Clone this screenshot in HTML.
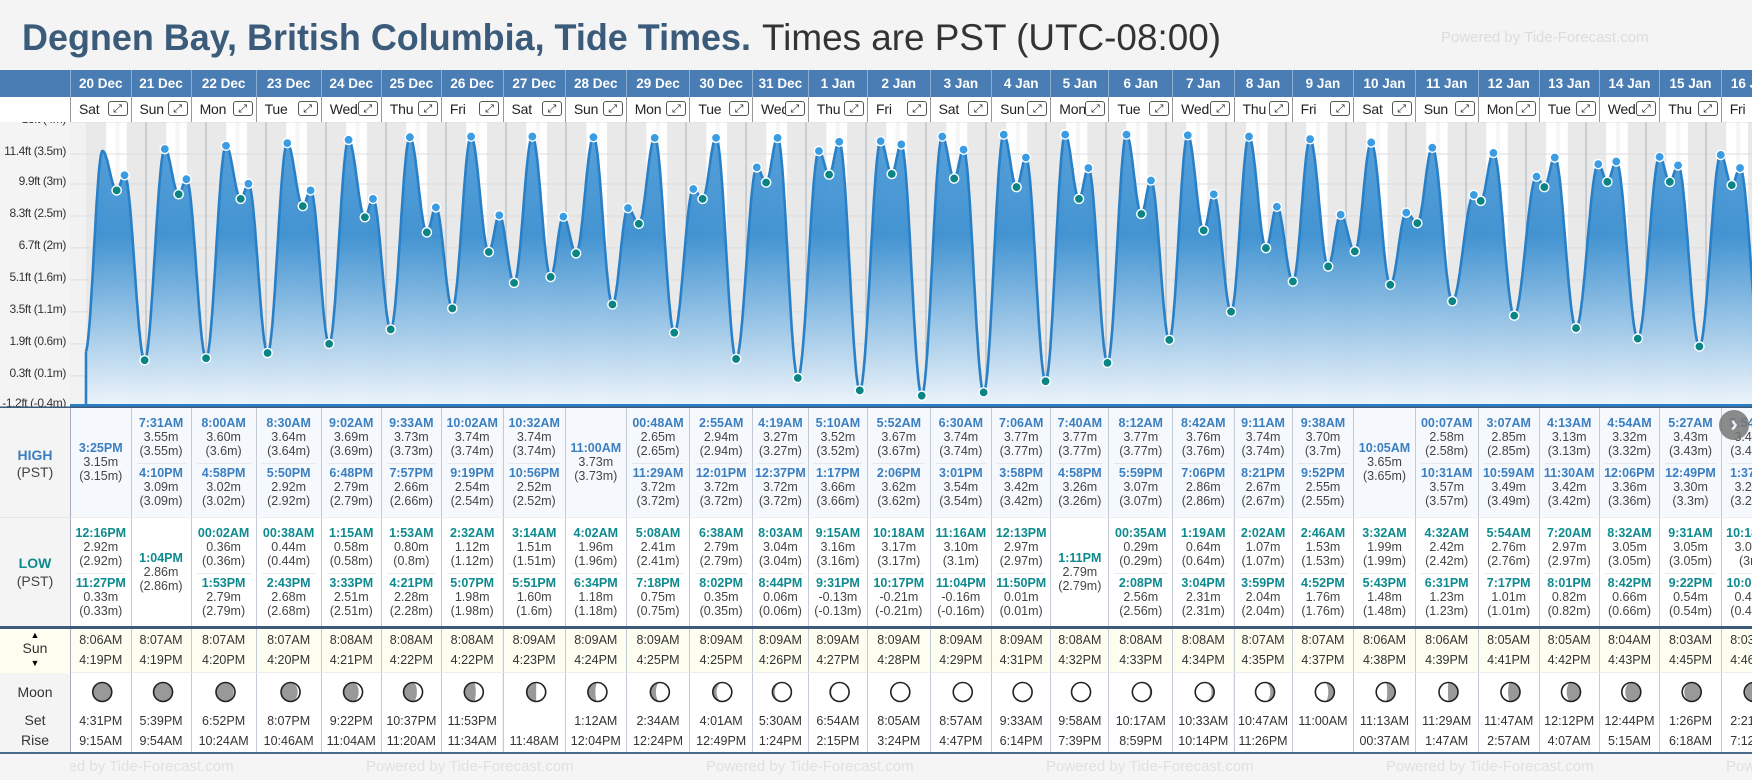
<!DOCTYPE html>
<html><head><meta charset="utf-8">
<style>
html,body{margin:0;padding:0;}
body{width:1752px;height:780px;overflow:hidden;background:#f4f4f4;position:relative;font-family:"Liberation Sans",sans-serif;}
.abs{position:absolute;}
.cell{position:absolute;box-sizing:border-box;text-align:center;overflow:hidden;}
.t{position:absolute;left:0;right:0;text-align:center;white-space:nowrap;line-height:14px;}
</style></head>
<body>
<svg class="abs" style="left:0;top:0" width="1752" height="70">
<text x="22" y="50" font-family="Liberation Sans, sans-serif" font-weight="bold" font-size="37" fill="#3b5b7b" textLength="729" lengthAdjust="spacingAndGlyphs">Degnen Bay, British Columbia, Tide Times.</text>
<text x="762" y="50" font-family="Liberation Sans, sans-serif" font-size="37" fill="#333" textLength="459" lengthAdjust="spacingAndGlyphs">Times are PST (UTC-08:00)</text>
<text x="1441" y="42" font-family="Liberation Sans, sans-serif" font-size="15" fill="#dcdcdc">Powered by Tide-Forecast.com</text>
</svg>
<div class="abs" style="left:0;top:70px;width:1752px;height:27px;background:#4a7db3"></div>
<div class="abs" style="left:0;top:97px;width:1752px;height:25px;background:#fff;border-bottom:1px solid #888"></div>
<svg id="chart" class="abs" style="left:0;top:122px" width="1752" height="286" viewBox="0 122 1752 286"></svg>
<div id="table"></div>
<div class="abs" style="left:0;top:408px;width:70px;height:109px;background:#f4f4f4;border-right:1px solid #aab">
<div class="t" style="top:40px;font-weight:bold;font-size:14px;color:#3b7fc0">HIGH</div>
<div class="t" style="top:57px;font-size:14px;color:#444">(PST)</div></div>
<div class="abs" style="left:0;top:517px;width:70px;height:109px;background:#f4f4f4;border-right:1px solid #aab;border-top:1px solid #e6e6e6">
<div class="t" style="top:38px;font-weight:bold;font-size:14px;color:#0e8a8f">LOW</div>
<div class="t" style="top:56px;font-size:14px;color:#444">(PST)</div></div>
<div class="abs" style="left:0;top:626px;width:1752px;height:3px;background:#3d5a7a"></div>
<div class="abs" style="left:0;top:629px;width:70px;height:44px;background:#fdfdf0;border-right:1px solid #aab">
<div class="t" style="top:-1px;font-size:9px">▲</div>
<div class="t" style="top:12px;font-size:14px;color:#333">Sun</div>
<div class="t" style="top:27px;font-size:9px">▼</div></div>
<div class="abs" style="left:0;top:673px;width:70px;height:79px;background:#f4f4f4;border-right:1px solid #aab">
<div class="t" style="top:12px;font-size:14px;color:#333">Moon</div>
<div class="t" style="top:40px;font-size:14px;color:#333">Set</div>
<div class="t" style="top:60px;font-size:14px;color:#333">Rise</div></div>
<div class="abs" style="left:0;top:752px;width:1752px;height:2px;background:#4a6a8a"></div>
<div id="footer" class="abs" style="left:0;top:754px;width:1752px;height:26px;background:#f5f5f5;overflow:hidden"></div>
<div class="abs" style="left:1719px;top:410px;width:30px;height:30px;border-radius:50%;background:#777;opacity:0.85;color:#fff;font-size:22px;line-height:28px;text-align:center;font-weight:bold">›</div>

<script>
const dates=["20 Dec","21 Dec","22 Dec","23 Dec","24 Dec","25 Dec","26 Dec","27 Dec","28 Dec","29 Dec","30 Dec","31 Dec","1 Jan","2 Jan","3 Jan","4 Jan","5 Jan","6 Jan","7 Jan","8 Jan","9 Jan","10 Jan","11 Jan","12 Jan","13 Jan","14 Jan","15 Jan","16 Jan"];
const dayNames=["Sat","Sun","Mon","Tue","Wed","Thu","Fri"];
const highT=[["3:25PM"],["7:31AM","4:10PM"],["8:00AM","4:58PM"],["8:30AM","5:50PM"],["9:02AM","6:48PM"],["9:33AM","7:57PM"],["10:02AM","9:19PM"],["10:32AM","10:56PM"],["11:00AM"],["00:48AM","11:29AM"],["2:55AM","12:01PM"],["4:19AM","12:37PM"],["5:10AM","1:17PM"],["5:52AM","2:06PM"],["6:30AM","3:01PM"],["7:06AM","3:58PM"],["7:40AM","4:58PM"],["8:12AM","5:59PM"],["8:42AM","7:06PM"],["9:11AM","8:21PM"],["9:38AM","9:52PM"],["10:05AM"],["00:07AM","10:31AM"],["3:07AM","10:59AM"],["4:13AM","11:30AM"],["4:54AM","12:06PM"],["5:27AM","12:49PM"],["5:54AM","1:37PM"]];
const highV=[[3.15],[3.55,3.09],[3.60,3.02],[3.64,2.92],[3.69,2.79],[3.73,2.66],[3.74,2.54],[3.74,2.52],[3.73],[2.65,3.72],[2.94,3.72],[3.27,3.72],[3.52,3.66],[3.67,3.62],[3.74,3.54],[3.77,3.42],[3.77,3.26],[3.77,3.07],[3.76,2.86],[3.74,2.67],[3.70,2.55],[3.65],[2.58,3.57],[2.85,3.49],[3.13,3.42],[3.32,3.36],[3.43,3.30],[3.46,3.26]];
const lowT=[["12:16PM","11:27PM"],["1:04PM"],["00:02AM","1:53PM"],["00:38AM","2:43PM"],["1:15AM","3:33PM"],["1:53AM","4:21PM"],["2:32AM","5:07PM"],["3:14AM","5:51PM"],["4:02AM","6:34PM"],["5:08AM","7:18PM"],["6:38AM","8:02PM"],["8:03AM","8:44PM"],["9:15AM","9:31PM"],["10:18AM","10:17PM"],["11:16AM","11:04PM"],["12:13PM","11:50PM"],["1:11PM"],["00:35AM","2:08PM"],["1:19AM","3:04PM"],["2:02AM","3:59PM"],["2:46AM","4:52PM"],["3:32AM","5:43PM"],["4:32AM","6:31PM"],["5:54AM","7:17PM"],["7:20AM","8:01PM"],["8:32AM","8:42PM"],["9:31AM","9:22PM"],["10:18AM","10:05PM"]];
const lowV=[[2.92,0.33],[2.86],[0.36,2.79],[0.44,2.68],[0.58,2.51],[0.80,2.28],[1.12,1.98],[1.51,1.60],[1.96,1.18],[2.41,0.75],[2.79,0.35],[3.04,0.06],[3.16,-0.13],[3.17,-0.21],[3.10,-0.16],[2.97,0.01],[2.79],[0.29,2.56],[0.64,2.31],[1.07,2.04],[1.53,1.76],[1.99,1.48],[2.42,1.23],[2.76,1.01],[2.97,0.82],[3.05,0.66],[3.05,0.54],[3.00,0.43]];
// tide turning points before the first table entry (shown on chart only)
const leadT=[-0.3,6.6];
const leadV=[0.45,3.52];
const sunrise=["8:06AM","8:07AM","8:07AM","8:07AM","8:08AM","8:08AM","8:08AM","8:09AM","8:09AM","8:09AM","8:09AM","8:09AM","8:09AM","8:09AM","8:09AM","8:09AM","8:08AM","8:08AM","8:08AM","8:07AM","8:07AM","8:06AM","8:06AM","8:05AM","8:05AM","8:04AM","8:03AM","8:03AM"];
const sunset=["4:19PM","4:19PM","4:20PM","4:20PM","4:21PM","4:22PM","4:22PM","4:23PM","4:24PM","4:25PM","4:25PM","4:26PM","4:27PM","4:28PM","4:29PM","4:31PM","4:32PM","4:33PM","4:34PM","4:35PM","4:37PM","4:38PM","4:39PM","4:41PM","4:42PM","4:43PM","4:45PM","4:46PM"];
const moonSet=["4:31PM","5:39PM","6:52PM","8:07PM","9:22PM","10:37PM","11:53PM","","1:12AM","2:34AM","4:01AM","5:30AM","6:54AM","8:05AM","8:57AM","9:33AM","9:58AM","10:17AM","10:33AM","10:47AM","11:00AM","11:13AM","11:29AM","11:47AM","12:12PM","12:44PM","1:26PM","2:21PM"];
const moonRise=["9:15AM","9:54AM","10:24AM","10:46AM","11:04AM","11:20AM","11:34AM","11:48AM","12:04PM","12:24PM","12:49PM","1:24PM","2:15PM","3:24PM","4:47PM","6:14PM","7:39PM","8:59PM","10:14PM","11:26PM","","00:37AM","1:47AM","2:57AM","4:07AM","5:15AM","6:18AM","7:12AM"];
const tickFt=[13,11.4,9.9,8.3,6.7,5.1,3.5,1.9,0.3,-1.2];
const tickM=["4m","3.5m","3m","2.5m","2m","1.6m","1.1m","0.6m","0.1m","-0.4m"];

// layout
const colEdge=[70,130.5,190.6,255.6,320.7,380.8,440.9,502.5,564.9,625.7,689.4,752,807.8,867,929.6,991.1,1050.3,1108.4,1172.1,1233.5,1291.6,1353.3,1414.7,1477.7,1538.7,1598.7,1659.3,1720.7,1782];
const X0=86, PXH=2.5, Y0=381.9, PXM=65.6, YB=406;
const xS=h=>X0+h*PXH;
const yS=m=>Y0-m*PXM;
function hrs(s){const m=s.match(/(\d+):(\d+)(AM|PM)/);let h=+m[1]%12;if(m[3]=="PM")h+=12;return h+ +m[2]/60;}
const NS="http://www.w3.org/2000/svg";
function sv(tag,attrs,parent){const e=document.createElementNS(NS,tag);for(const k in attrs)e.setAttribute(k,attrs[k]);parent.appendChild(e);return e;}

const chart=document.getElementById('chart');
const defs=sv('defs',{},chart);
const g=sv('linearGradient',{id:'fillg',x1:0,y1:122,x2:0,y2:406,gradientUnits:'userSpaceOnUse'},defs);
sv('stop',{offset:'0','stop-color':'#4f9cd8'},g);
sv('stop',{offset:'0.4','stop-color':'#3a8fd0'},g);
sv('stop',{offset:'1','stop-color':'#eef5fb'},g);
sv('rect',{x:0,y:122,width:70,height:286,fill:'#f4f4f4'},chart);
sv('rect',{x:70,y:122,width:1682,height:286,fill:'#e9e9e9'},chart);
for(let d=0;d<dates.length;d++){
  const r=xS(d*24+hrs(sunrise[d])), s=xS(d*24+hrs(sunset[d]));
  const band=sv('rect',{x:r,y:122,width:s-r,height:284,fill:'#ffffff'},chart);
  
  
  sv('rect',{x:r+(s-r)*0.45,y:122,width:(s-r)*0.2,height:284,fill:'#f6f6f6'},chart);
}
sv('rect',{x:70,y:122,width:16,height:284,fill:'#f2f2f2'},chart);
tickFt.forEach((f,i)=>{const y=yS(f/3.2808);
  sv('line',{x1:70,x2:1752,y1:y,y2:y,stroke:'#dddddd','stroke-width':1},chart);
  const t=sv('text',{x:66,y:y+1,'text-anchor':'end','font-size':12,'letter-spacing':'-0.4',fill:'#333','font-family':'Liberation Sans, sans-serif'},chart);
  t.textContent=f+"ft ("+tickM[i]+")";
  
  
});
for(let d=1;d<dates.length;d++){const x=xS(d*24);
  const l=sv('line',{x1:x,x2:x,y1:122,y2:406,stroke:'#a9b3bd','stroke-width':1},chart);
  
  
}
let ev=[];
leadT.forEach((t,i)=>ev.push({t:t,v:leadV[i],k:null}));
for(let d=0;d<dates.length;d++){
  highT[d].forEach((s,i)=>ev.push({t:d*24+hrs(s),v:highV[d][i],k:'high'}));
  lowT[d].forEach((s,i)=>ev.push({t:d*24+hrs(s),v:lowV[d][i],k:'low'}));
}
ev.sort((a,b)=>a.t-b.t);
let pts=[];
for(let i=0;i<ev.length-1;i++){const a=ev[i],b=ev[i+1];
  for(let h=Math.ceil(a.t*4)/4;h<b.t;h+=0.25){if(h<0)continue;const f=(h-a.t)/(b.t-a.t);
    pts.push([xS(h),yS(a.v+(b.v-a.v)*(1-Math.cos(Math.PI*f))/2)]);}
}
const last=ev[ev.length-1];pts.push([xS(last.t),yS(last.v)]);
let dLine="M"+pts.map(p=>p[0].toFixed(1)+","+p[1].toFixed(1)).join(" L");
const area=sv('path',{d:"M"+pts[0][0]+","+YB+" L"+pts.map(p=>p[0].toFixed(1)+","+p[1].toFixed(1)).join(" L")+" L"+pts[pts.length-1][0]+","+YB+" Z",fill:'url(#fillg)',opacity:0.95},chart);


const line=sv('path',{d:dLine,fill:'none',stroke:'#2a80c6','stroke-width':2.6},chart);


sv('line',{x1:pts[0][0],x2:pts[0][0],y1:pts[0][1],y2:YB,stroke:'#2a80c6','stroke-width':2.6},chart);
ev.forEach(e=>{if(!e.k)return;
  const c=sv('circle',{cx:xS(e.t),cy:yS(e.v),r:4.6,fill:e.k=='high'?'#3a9de3':'#0a8585',stroke:'#fff','stroke-width':1.4},chart);
  
  
});
sv('rect',{x:70,y:404,width:1682,height:3,fill:'#2a80c6'},chart);
sv('rect',{x:0,y:406.5,width:1752,height:1.5,fill:'#3d5a7a'},chart);

const T=document.getElementById('table');
function mk(cls,style,parent,name,inter){const e=document.createElement('div');e.className=cls;e.style.cssText=style;parent.appendChild(e);
  
  
  return e;}
function txt(p,top,s,css){const e=document.createElement('div');e.className='t';e.style.cssText='top:'+top+'px;'+css;e.textContent=s;p.appendChild(e);return e;}
function fmt(v){return v.toFixed(2)+"m";}
function par(v){return "("+parseFloat(v.toFixed(2))+"m)";}
for(let d=0;d<dates.length;d++){
  const L=colEdge[d],W=colEdge[d+1]-L;
  const hd=mk('cell',`left:${L}px;top:70px;width:${W}px;height:27px;border-left:1px solid #8fb0d3;color:#fff;font-weight:bold;font-size:13.5px;line-height:27px`,T,'date-header',false);
  hd.textContent=dates[d];
  const dy=mk('cell',`left:${L}px;top:97px;width:${W}px;height:25px;border-left:1px solid #999;text-align:left`,T,'day-header',false);
  txt(dy,5,dayNames[d%7],'text-align:left;padding-left:8px;font-size:14px;letter-spacing:-0.2px;color:#222');
  const ic=mk('abs',`left:${W-24}px;top:4px;width:20px;height:15px;border:1px solid #555;border-radius:3px;box-sizing:border-box;font-size:11px;line-height:13px;text-align:center;color:#222;background:#fff;font-family:DejaVu Sans,sans-serif`,dy,'expand-day-button',true);
  ic.textContent='⤢';
  const hi=mk('cell',`left:${L}px;top:408px;width:${W}px;height:109px;background:#f5f9fd;border-left:1px solid #c3ccd6`,T,'high-tide-cell',false);
  const n=highT[d].length;
  highT[d].forEach((s,i)=>{const top=n==1?33:(8+i*50);
    txt(hi,top,s,'font-weight:bold;font-size:12.5px;color:#3b7fc0');
    txt(hi,top+14,fmt(highV[d][i]),'font-size:12.5px;color:#444');
    txt(hi,top+28,par(highV[d][i]),'font-size:12.5px;color:#444');});
  if(n==2){const sp=document.createElement('div');sp.className='abs';sp.style.cssText='left:5px;right:5px;top:55px;height:1px;background:#e3e8ee';hi.appendChild(sp);}
  const lo=mk('cell',`left:${L}px;top:517px;width:${W}px;height:109px;background:#fff;border-left:1px solid #c3ccd6;border-top:1px solid #eee`,T,'low-tide-cell',false);
  const m=lowT[d].length;
  lowT[d].forEach((s,i)=>{const top=m==1?33:(8+i*50);
    txt(lo,top,s,'font-weight:bold;font-size:12.5px;color:#0e8a8f');
    txt(lo,top+14,fmt(lowV[d][i]),'font-size:12.5px;color:#444');
    txt(lo,top+28,par(lowV[d][i]),'font-size:12.5px;color:#444');});
  if(m==2){const sp=document.createElement('div');sp.className='abs';sp.style.cssText='left:5px;right:5px;top:55px;height:1px;background:#eaeaea';lo.appendChild(sp);}
  const su=mk('cell',`left:${L}px;top:629px;width:${W}px;height:44px;background:#fdfdf0;border-left:1px solid #c3ccd6;border-bottom:1px solid #eee`,T,'sun-times-cell',false);
  txt(su,4,sunrise[d],'font-size:12.5px;color:#333');
  txt(su,24,sunset[d],'font-size:12.5px;color:#333');
  const mo=mk('cell',`left:${L}px;top:673px;width:${W}px;height:79px;background:#fff;border-left:1px solid #c3ccd6`,T,'moon-cell',false);
  txt(mo,41,moonSet[d],'font-size:12.5px;color:#333');
  txt(mo,61,moonRise[d],'font-size:12.5px;color:#333');
  const p=((d+0.4)/29.53)%1, r=9.5, cx=W/2+1, cy=19;
  const s=document.createElementNS(NS,'svg');s.setAttribute('width',W);s.setAttribute('height',40);s.style.cssText='position:absolute;left:0;top:0';
  
  
  mo.appendChild(s);
  sv('circle',{cx:cx,cy:cy,r:r,fill:'#999'},s);
  const k=r*Math.cos(2*Math.PI*p), rx=Math.max(Math.abs(k),0.01);
  let path;
  if(p<0.5){path=`M${cx},${cy-r} A${r},${r} 0 0 1 ${cx},${cy+r} A${rx},${r} 0 0 ${k>0?0:1} ${cx},${cy-r} Z`;}
  else{path=`M${cx},${cy-r} A${r},${r} 0 0 0 ${cx},${cy+r} A${rx},${r} 0 0 ${k<0?0:1} ${cx},${cy-r} Z`;}
  sv('path',{d:path,fill:'#fff'},s);
  sv('circle',{cx:cx,cy:cy,r:r,fill:'none',stroke:'#222','stroke-width':1.6},s);
}
const F=document.getElementById('footer');
for(let i=0;i<6;i++){const e=document.createElement('div');e.className='abs';
  e.style.cssText=`left:${26+i*340}px;top:4px;font-size:15px;color:#e0e0e0;white-space:nowrap`;
  e.textContent='Powered by Tide-Forecast.com';
  
  
  F.appendChild(e);}
const cover=document.createElement('div');cover.className='abs';cover.style.cssText='left:0;top:0;width:70px;height:26px;background:#f5f5f5';F.appendChild(cover);
</script>
</body></html>
